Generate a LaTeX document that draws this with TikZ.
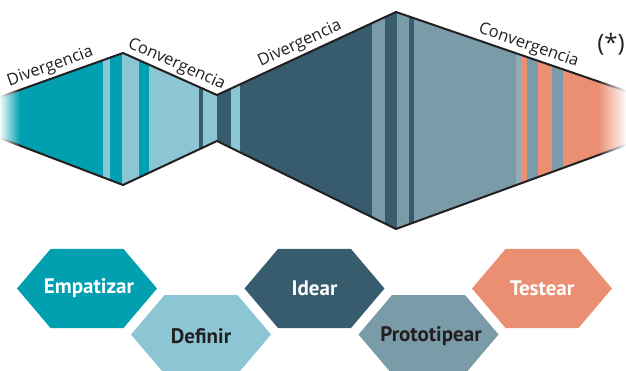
\documentclass[tikz,border=0pt]{standalone}
\usepackage{fontspec}
\setmainfont{Open Sans}
\newfontfamily\hexfont{PT Sans}
\usetikzlibrary{fadings}
\definecolor{tealA}{HTML}{00A0B1}
\definecolor{lightA}{HTML}{8CC6D4}
\definecolor{darkA}{HTML}{365C6D}
\definecolor{grayA}{HTML}{7A9BA8}
\definecolor{grayB}{HTML}{93ADB8}
\definecolor{salmonA}{HTML}{EB8F73}
\definecolor{inkA}{HTML}{231F20}
\tikzfading[name=fadeleft, left color=transparent!0, right color=transparent!100]
\tikzfading[name=faderight, left color=transparent!100, right color=transparent!0]
\tikzset{
  hexa/.pic={\fill[pic actions] (-70,0) -- (-36.5,-39.5) -- (36.5,-39.5) -- (70,0) -- (36.5,39.5) -- (-36.5,39.5) -- cycle;},
  hexlabel/.style={font=\hexfont\bfseries\fontsize{21}{25}\selectfont, inner sep=0pt},
  edgelabel/.style={font=\fontsize{16.5}{19}\selectfont, text=inkA, sloped, above, inner sep=3pt},
  border/.style={draw=inkA, line width=2pt, line join=round},
}
\begin{document}
\begin{tikzpicture}[x=1pt,y=-1pt]
\useasboundingbox (0,0) rectangle (626,371);
\clip (0,0) rectangle (626,371);
% vertices of the band
\coordinate (t0) at (0,97);
\coordinate (t1) at (123,53);
\coordinate (t2) at (217,95);
\coordinate (t3) at (396,12);
\coordinate (t4) at (626,91);
\coordinate (b0) at (0,138);
\coordinate (b1) at (123,185);
\coordinate (b2) at (217,141);
\coordinate (b3) at (396,229);
\coordinate (b4) at (626,145);
% stripes
\begin{scope}
\clip (t0) -- (t1) -- (t2) -- (t3) -- (t4) -- (b4) -- (b3) -- (b2) -- (b1) -- (b0) -- cycle;
\foreach \xa/\xb/\c in {0/103/tealA, 103/110/lightA, 110/122/tealA, 122/139/lightA, 139/149/tealA,
  149/199/lightA, 199/203/darkA, 203/217/lightA, 217/231/darkA, 231/240/lightA, 240/372/darkA,
  372/385/grayA, 385/397/darkA, 397/409/grayA, 409/414/darkA, 414/516/grayA, 516/522/grayB,
  522/527/salmonA, 527/538/grayA, 538/552/salmonA, 552/563/grayA, 563/626/salmonA}
  \fill[\c] (\xa,0) rectangle (\xb+0.3,240);
\end{scope}
\draw[border] (t0) -- (t1) -- (t2) -- (t3) -- (t4);
\draw[border] (b0) -- (b1) -- (b2) -- (b3) -- (b4);
% fades at both ends
\fill[white, path fading=fadeleft] (-1,0) rectangle (20,240);
\fill[white, path fading=faderight] (598,60) rectangle (627,200);
% edge labels
\path (t0) -- (t1) node[edgelabel, pos=0.44] (l1) {Divergencia};
\path (t1) -- (t2) node[edgelabel, pos=0.52] (l2) {Convergencia};
\path (t2) -- (t3) node[edgelabel, pos=0.49] (l3) {Divergencia};
\path (t3) -- (t4) node[edgelabel, pos=0.56] (l4) {Convergencia};
\node[font=\fontsize{24}{28}\selectfont, text=inkA, inner sep=0pt] (star) at (611,44) {(*)};
% hexagons
\pic[fill=tealA] at (87,288.5) {hexa};
\pic[fill=lightA] at (201,334.5) {hexa};
\pic[fill=darkA] at (314.5,288.5) {hexa};
\pic[fill=grayA] at (428.5,334.5) {hexa};
\pic[fill=salmonA] at (542,288.5) {hexa};
\node[hexlabel, text=white] (emp) at (89,288) {Empatizar};
\node[hexlabel, text=inkA] (def) at (201,336) {Definir};
\node[hexlabel, text=white] (ide) at (314.5,288) {Idear};
\node[hexlabel, text=inkA] (pro) at (431,336) {Prototipear};
\node[hexlabel, text=white] (tes) at (542,288) {Testear};
\end{tikzpicture}
\end{document}
